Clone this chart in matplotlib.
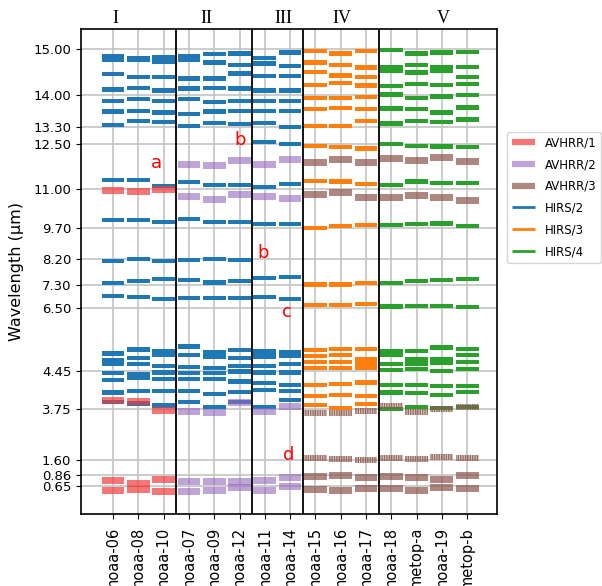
import numpy as np
import matplotlib
matplotlib.use('agg')
from matplotlib import pyplot as plt
from matplotlib.lines import Line2D

# Satellites in plotting order, grouped by instrument generation
satellites = ['noaa-06', 'noaa-08', 'noaa-10', 'noaa-07', 'noaa-09', 'noaa-12',
              'noaa-11', 'noaa-14', 'noaa-15', 'noaa-16', 'noaa-17', 'noaa-18',
              'metop-a', 'noaa-19', 'metop-b']
hirs_type = ['HIRS/2'] * 8 + ['HIRS/3'] * 3 + ['HIRS/4'] * 4
avhrr_type = ['AVHRR/1'] * 3 + ['AVHRR/2'] * 5 + ['AVHRR/3'] * 7
groups = ['I', 'II', 'III', 'IV', 'V']
group_sizes = [3, 3, 2, 3, 4]

ytick_values = [0.65, 0.86, 1.60, 3.75, 4.45, 6.50, 7.30, 8.20, 9.70,
                11.00, 12.50, 13.30, 14.00, 15.00]

# HIRS channel central wavelengths (um)
hirs_noaa06 = [14.85, 14.76, 14.46, 14.12, 13.87, 13.64, 13.35, 11.28, 9.96, 8.13,
               7.37, 6.92, 5.02, 4.81, 4.68, 4.41, 4.29, 4.06, 3.89]
hirs_noaa08 = [14.80, 14.78, 14.39, 14.16, 13.91, 13.66, 13.44, 11.28, 9.96, 8.20,
               7.45, 6.87, 5.15, 4.86, 4.67, 4.39, 4.32, 4.09, 3.86]
hirs_noaa10 = [14.82, 14.72, 14.39, 14.10, 13.87, 13.62, 13.41, 11.09, 9.90, 8.13,
               7.51, 6.80, 5.09, 4.96, 4.61, 4.42, 4.31, 4.09, 3.82]
hirs_noaa07 = [14.85, 14.76, 14.36, 14.14, 13.91, 13.59, 13.33, 11.23, 10.00, 8.16,
               7.48, 6.84, 5.24, 4.97, 4.57, 4.41, 4.30, 4.09, 3.88]
hirs_noaa09 = [14.90, 14.71, 14.36, 14.16, 13.85, 13.64, 13.39, 11.12, 9.90, 8.20,
               7.39, 6.84, 5.05, 4.92, 4.54, 4.41, 4.30, 4.03, 3.80]
hirs_noaa12 = [14.91, 14.66, 14.47, 14.14, 13.87, 13.65, 13.37, 11.12, 9.90, 8.16,
               7.45, 6.84, 5.13, 4.86, 4.61, 4.44, 4.26, 4.07, 3.88]
hirs_noaa11 = [14.81, 14.69, 14.42, 14.10, 13.87, 13.65, 13.39, 12.61, 11.06, 9.85,
               7.55, 6.87, 5.08, 4.92, 4.61, 4.42, 4.23, 4.10, 3.79]
hirs_noaa14 = [14.93, 14.64, 14.42, 14.10, 13.87, 13.65, 13.31, 12.50, 11.15, 9.83,
               7.59, 6.80, 5.05, 4.94, 4.68, 4.42, 4.20, 4.09, 3.92]
hirs_noaa15 = [14.97, 14.71, 14.50, 14.22, 13.94, 13.70, 13.33, 12.44, 11.26, 9.72,
               7.33, 6.60, 5.13, 4.94, 4.75, 4.54, 4.20, 4.00, 3.83]
hirs_noaa16 = [14.91, 14.66, 14.43, 14.26, 13.93, 13.72, 13.33, 12.42, 11.24, 9.77,
               7.33, 6.60, 5.16, 4.96, 4.75, 4.54, 4.21, 4.01, 3.78]
hirs_noaa17 = [14.97, 14.60, 14.40, 14.21, 13.95, 13.69, 13.44, 12.36, 11.15, 9.80,
               7.37, 6.64, 5.16, 4.82, 4.69, 4.56, 4.24, 4.00, 3.85]
hirs_noaa18 = [14.98, 14.62, 14.52, 14.20, 14.01, 13.71, 13.38, 12.51, 11.13, 9.80,
               7.37, 6.54, 5.10, 4.97, 4.67, 4.48, 4.20, 4.06, 3.76]
hirs_metopa = [14.91, 14.66, 14.49, 14.24, 13.93, 13.70, 13.44, 12.45, 11.24, 9.84,
               7.45, 6.57, 5.10, 4.82, 4.69, 4.52, 4.20, 4.05, 3.80]
hirs_noaa19 = [14.93, 14.60, 14.53, 14.22, 13.97, 13.62, 13.41, 12.43, 11.19, 9.86,
               7.48, 6.57, 5.21, 4.83, 4.72, 4.46, 4.18, 4.01, 3.78]
hirs_metopb = [14.94, 14.61, 14.40, 14.24, 14.00, 13.73, 13.47, 12.40, 11.19, 9.77,
               7.51, 6.52, 5.16, 4.96, 4.73, 4.52, 4.18, 4.07, 3.79]

# AVHRR channel central wavelengths (um): ch1, ch2, ch3 (3A, 3B), ch4, ch5
avhrr_noaa06 = [0.53, 0.76, 3.92, 10.92]
avhrr_noaa08 = [0.57, 0.70, 3.90, 10.89]
avhrr_noaa10 = [0.51, 0.78, 3.70, 10.97]
avhrr_noaa07 = [0.51, 0.74, 3.66, 10.73, 11.83]
avhrr_noaa09 = [0.54, 0.74, 3.61, 10.65, 11.77]
avhrr_noaa12 = [0.60, 0.73, 3.87, 10.82, 11.94]
avhrr_noaa11 = [0.55, 0.75, 3.66, 10.73, 11.83]
avhrr_noaa14 = [0.63, 0.81, 3.81, 10.66, 11.99]
avhrr_noaa15 = [0.57, 0.83, 1.70, 3.59, 10.81, 11.89]
avhrr_noaa16 = [0.55, 0.85, 1.64, 3.59, 10.88, 11.99]
avhrr_noaa17 = [0.58, 0.82, 1.62, 3.70, 10.71, 11.88]
avhrr_noaa18 = [0.58, 0.83, 1.67, 3.81, 10.69, 12.02]
avhrr_metopa = [0.55, 0.81, 1.64, 3.66, 10.76, 11.94]
avhrr_noaa19 = [0.61, 0.78, 1.74, 3.76, 10.69, 12.06]
avhrr_metopb = [0.58, 0.84, 1.70, 3.80, 10.60, 11.91]
avhrr3_shared = (2, 3)  # channels 3A / 3B are time-shared

hirs_bands = [hirs_noaa06, hirs_noaa08, hirs_noaa10, hirs_noaa07, hirs_noaa09,
              hirs_noaa12, hirs_noaa11, hirs_noaa14, hirs_noaa15, hirs_noaa16,
              hirs_noaa17, hirs_noaa18, hirs_metopa, hirs_noaa19, hirs_metopb]
avhrr_bands = [avhrr_noaa06, avhrr_noaa08, avhrr_noaa10, avhrr_noaa07, avhrr_noaa09,
               avhrr_noaa12, avhrr_noaa11, avhrr_noaa14, avhrr_noaa15, avhrr_noaa16,
               avhrr_noaa17, avhrr_noaa18, avhrr_metopa, avhrr_noaa19, avhrr_metopb]

# Non-uniform wavelength axis: piecewise-linear between labelled ticks
scale_wl = [0.0] + ytick_values + [16.0]
scale_pos = [0.0, 28.6, 39.3, 54.3, 104.8, 143.3, 206.6, 229.0, 255.6, 286.0,
             325.8, 370.0, 387.0, 419.3, 465.0, 510.7]


def ypos(wl):
    return np.interp(wl, scale_wl, scale_pos)


hirs_colors = {'HIRS/2': 'tab:blue', 'HIRS/3': 'tab:orange', 'HIRS/4': 'tab:green'}
avhrr_colors = {'AVHRR/1': '#f03c3c', 'AVHRR/2': 'tab:purple', 'AVHRR/3': 'tab:brown'}
avhrr_alpha = {'AVHRR/1': 0.7, 'AVHRR/2': 0.6, 'AVHRR/3': 0.7}

fig = plt.figure(figsize=(6.02, 5.86), dpi=100)
ax = fig.add_axes([0.1346, 0.1224, 0.6910, 0.8286])

width = 0.9
hirs_h = 4.3
avhrr_h = 7.0

for i, bands in enumerate(hirs_bands):
    y = ypos(bands)
    ax.bar(np.full(len(y), i), hirs_h, bottom=y - hirs_h / 2, width=width,
           color=hirs_colors[hirs_type[i]], lw=0, zorder=2)

for i, bands in enumerate(avhrr_bands):
    kind = avhrr_type[i]
    y = ypos(bands)
    color = matplotlib.colors.to_rgb(avhrr_colors[kind])
    for j, yy in enumerate(y):
        if kind == 'AVHRR/3' and j in avhrr3_shared:
            ax.bar(i, 6.0, bottom=yy - 3.0, width=width,
                   facecolor=color + (0.3,), edgecolor=color + (0.8,),
                   hatch='|' * 7, lw=0, zorder=3)
        else:
            ax.bar(i, avhrr_h, bottom=yy - avhrr_h / 2, width=width,
                   color=color, alpha=avhrr_alpha[kind], lw=0, zorder=3)

# group separators and labels
bounds = np.cumsum(group_sizes)
for b in bounds[:-1]:
    ax.axvline(b - 0.5, color='k', lw=1.3, zorder=4)
for name, gx in zip(groups, [0.08, 3.68, 6.73, 9.04, 13.05]):
    ax.text(gx, 1.022, name, transform=ax.get_xaxis_transform(),
            ha='center', va='center', fontsize=13, family='Liberation Serif')

# red annotations
for s, (tx, twl) in zip(['a', 'b', 'b', 'c', 'd'],
                        [(1.70, 11.88), (5.02, 12.70), (5.92, 8.50),
                         (6.89, 6.37), (6.93, 1.81)]):
    ax.text(tx, ypos(twl), s, color='red', fontsize=13, ha='center',
            va='center', zorder=5)

ax.set_xlim(-1.265, 15.18)
ax.set_ylim(0, 485.6)
ax.set_xticks(range(len(satellites)))
ax.set_xticklabels(satellites, rotation=90, fontsize=10.5)
ax.tick_params(axis='x', pad=5.5)
ax.set_yticks(ypos(ytick_values))
ax.set_yticklabels(['%.2f' % v for v in ytick_values], fontsize=9.5)
ax.set_ylabel('Wavelength (µm)', fontsize=11.5)
ax.yaxis.set_label_coords(-0.137, 0.5)
ax.grid(True, color='#c4c4c4', lw=1.2, zorder=0)
ax.set_axisbelow(True)
for sp in ax.spines.values():
    sp.set_linewidth(1.2)

handles = []
for k in ['AVHRR/1', 'AVHRR/2', 'AVHRR/3']:
    handles.append(Line2D([], [], color=avhrr_colors[k], alpha=avhrr_alpha[k],
                          lw=4.5, solid_capstyle='butt', label=k))
for k in ['HIRS/2', 'HIRS/3', 'HIRS/4']:
    handles.append(Line2D([], [], color=hirs_colors[k], lw=2,
                          solid_capstyle='butt', label=k))
fig.legend(handles=handles, loc='upper left', fontsize=8.5, labelspacing=0.74,
           bbox_to_anchor=(507 / 602, 1 - 131.7 / 586), borderaxespad=0)

fig.savefig('out.png', dpi=100)
